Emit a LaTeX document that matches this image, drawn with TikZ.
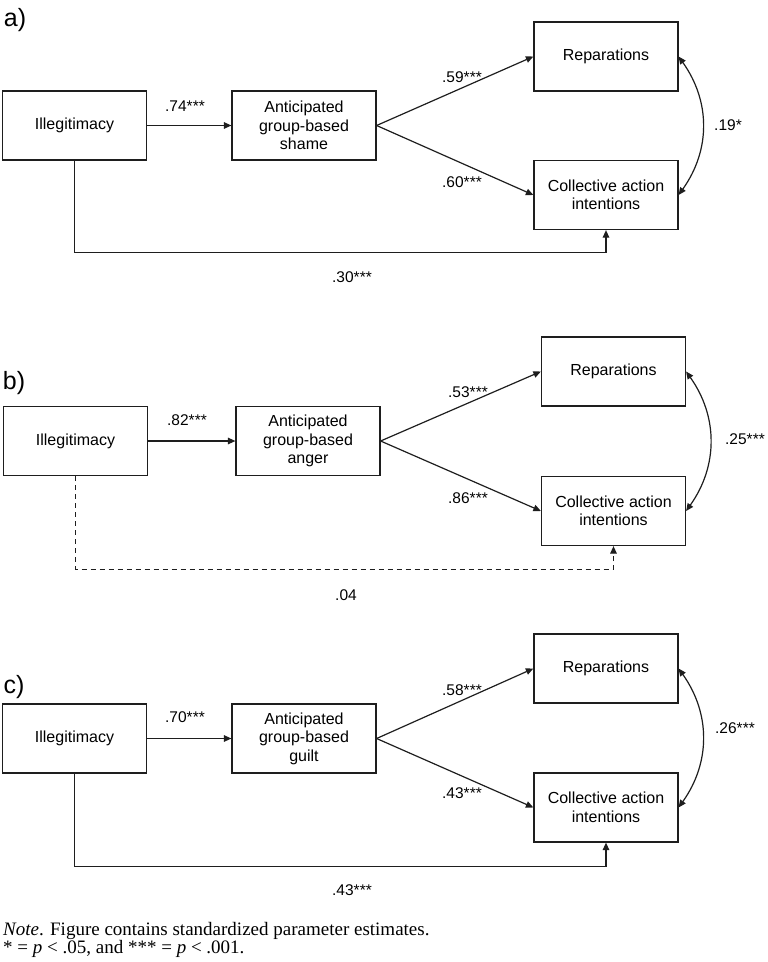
\documentclass[tikz,border=0pt]{standalone}
\usepackage{fontspec}
\setmainfont{Liberation Sans}
\newfontfamily\notefont{Liberation Serif}
\usetikzlibrary{arrows.meta}
\definecolor{ink}{HTML}{1E1E1E}
\begin{document}
\begin{tikzpicture}[x=1pt,y=-1pt,
  box/.style={draw=ink,line width=1.2pt,minimum width=144pt,minimum height=69pt,inner sep=0pt,align=center,font=\fontsize{16}{18.5}\selectfont},
  lbl/.style={inner sep=0pt,font=\fontsize{15.5}{18}\selectfont},
  panel/.style={inner sep=0pt,font=\fontsize{25}{28}\selectfont},
  note/.style={inner sep=0pt,anchor=base west,font=\notefont\fontsize{19}{21}\selectfont},
  path/.style={draw=ink,line width=1.2pt,-{Triangle[length=7.5pt,width=6.5pt]}},
  dpath/.style={draw=ink,line width=1.2pt,{Triangle[length=7.5pt,width=6.5pt]}-{Triangle[length=7.5pt,width=6.5pt]}},
  ]
\path[use as bounding box,fill=white] (0,0) rectangle (768,962);

% ---------- panel a ----------
\node[panel] (pa) at (15,20) {a)};
\node[box] (illA) at (74.5,125.5) {Illegitimacy};
\node[box] (shameA) at (304,125.5) {Anticipated\\group-based\\shame};
\node[box] (repA) at (606,56.5) {Reparations};
\node[box] (colA) at (606,195) {Collective action\\intentions};
\draw[path] (illA.east) -- (shameA.west);
\draw[path] (shameA.east) -- (repA.west);
\draw[path] (shameA.east) -- (colA.west);
\draw[path] (illA.south) -- ++(0,92) -| (colA.south);
\draw[dpath] (repA.east) .. controls +(32,45) and +(32,-45) .. (colA.east);
\node[lbl] (la1) at (185,106) {.74***};
\node[lbl] (la2) at (462,77) {.59***};
\node[lbl] (la3) at (462,182) {.60***};
\node[lbl] (la4) at (352,277) {.30***};
\node[lbl] (la5) at (728,125) {.19*};

% ---------- panel b ----------
\node[panel] (pb) at (14,383) {b)};
\node[box] (illB) at (75.5,441) {Illegitimacy};
\node[box] (angerB) at (308,441) {Anticipated\\group-based\\anger};
\node[box] (repB) at (613.5,371.5) {Reparations};
\node[box] (colB) at (613.5,511) {Collective action\\intentions};
\draw[path] (illB.east) -- (angerB.west);
\draw[path] (angerB.east) -- (repB.west);
\draw[path] (angerB.east) -- (colB.west);
\draw[path,dash pattern=on 5pt off 4pt] (illB.south) -- ++(0,93) -| (colB.south);
\draw[dpath] (repB.east) .. controls +(32,45) and +(32,-45) .. (colB.east);
\node[lbl] (lb1) at (187,420) {.82***};
\node[lbl] (lb2) at (468,392) {.53***};
\node[lbl] (lb3) at (468,498) {.86***};
\node[lbl] (lb4) at (346,595) {.04};
\node[lbl] (lb5) at (745,439) {.25***};

% ---------- panel c ----------
\node[panel] (pc) at (14,687) {c)};
\node[box] (illC) at (74.5,738.5) {Illegitimacy};
\node[box] (guiltC) at (304,738.5) {Anticipated\\group-based\\guilt};
\node[box] (repC) at (606,668.5) {Reparations};
\node[box] (colC) at (606,807.5) {Collective action\\intentions};
\draw[path] (illC.east) -- (guiltC.west);
\draw[path] (guiltC.east) -- (repC.west);
\draw[path] (guiltC.east) -- (colC.west);
\draw[path] (illC.south) -- ++(0,93) -| (colC.south);
\draw[dpath] (repC.east) .. controls +(32,45) and +(32,-45) .. (colC.east);
\node[lbl] (lc1) at (185,717) {.70***};
\node[lbl] (lc2) at (462,690) {.58***};
\node[lbl] (lc3) at (462,793) {.43***};
\node[lbl] (lc4) at (352,890) {.43***};
\node[lbl] (lc5) at (735,728) {.26***};

% ---------- note ----------
\node[note] (n1) at (3,935) {\textit{Note}. Figure contains standardized parameter estimates.};
\node[note] (n2) at (3,953) {* = \textit{p} < .05, and *** = \textit{p} < .001.};
\end{tikzpicture}
\end{document}
